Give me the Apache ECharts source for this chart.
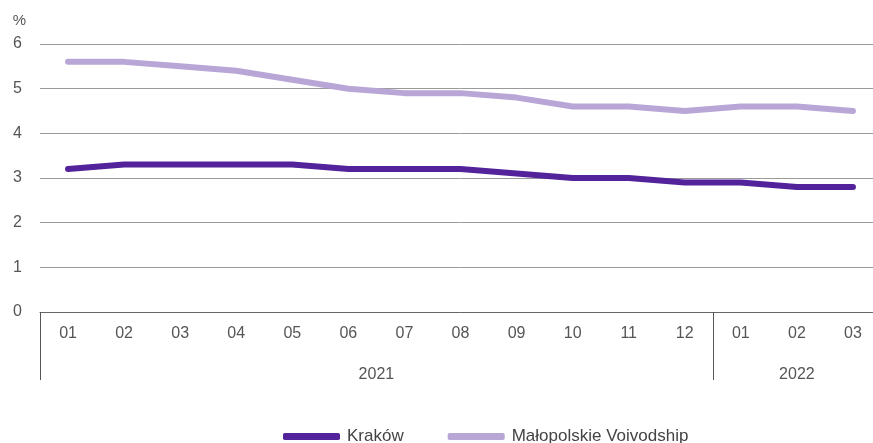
<!doctype html>
<html>
<head>
    <meta charset="utf-8">
    <title>Kraków / Małopolskie</title>
    <script src="https://cdn.jsdelivr.net/npm/echarts@6/dist/echarts.min.js"></script>
    <style>
        html, body{margin:0;padding:0;background:#fff;overflow:hidden;width:873px;height:443px;}
        /* wykres szerszy niż okno: prawa krawędź jest ucięta jak w oryginale */
        #chartBox{width:881px;height:443px;}
    </style>
</head>
<body>
    <div id="chartBox"></div>
<script type="text/javascript">
    // dane
    var months = ['01','02','03','04','05','06','07','08','09','10','11','12','01','02','03'];
    var krakow = [3.2, 3.3, 3.3, 3.3, 3.3, 3.2, 3.2, 3.2, 3.1, 3.0, 3.0, 2.9, 2.9, 2.8, 2.8];
    var malopolskie = [5.6, 5.6, 5.5, 5.4, 5.2, 5.0, 4.9, 4.9, 4.8, 4.6, 4.6, 4.5, 4.6, 4.6, 4.5];
    var years = ['2021', '2022'];
    var yearCenters = [6, 13.5];   // środek grupy miesięcy na osi wartości 0..15
    var yearBounds = [0, 12];      // granice lat
    var yTicks = [0, 1, 2, 3, 4, 5, 6];

    var font = '"Liberation Sans", sans-serif';

    var myChart = echarts.init(document.getElementById('chartBox'));
    var option = {
        animation: false,
        textStyle: {fontFamily: font},
        grid: {left: 40, right: 0, top: 44, bottom: 131, containLabel: false},
        legend: {
            top: 423,
            left: 278,
            itemWidth: 57,
            itemHeight: 7,
            itemGap: 44,
            icon: 'roundRect',
            textStyle: {fontFamily: font, fontSize: 17, color: '#444', padding: [0, 0, 0, 2]},
            data: ['Kraków', 'Małopolskie Voivodship']
        },
        xAxis: [{
            type: 'category',
            data: months,
            boundaryGap: true,
            axisLine: {lineStyle: {color: '#666', width: 1}},
            axisTick: {show: false},
            axisLabel: {color: '#555', fontSize: 16, margin: 14, interval: 0}
        }, {
            type: 'value',
            min: 0,
            max: 15,
            position: 'bottom',
            gridIndex: 0,
            axisLine: {show: false},
            splitLine: {show: false},
            axisTick: {
                show: true,
                customValues: yearBounds,
                length: 68,
                lineStyle: {color: '#555', width: 1}
            },
            axisLabel: {
                show: true,
                customValues: yearCenters,
                color: '#555',
                fontSize: 16,
                margin: 55,
                formatter: function (v) {
                    return years[yearCenters.indexOf(v)];
                }
            }
        }],
        yAxis: {
            type: 'value',
            min: yTicks[0],
            max: yTicks[yTicks.length - 1],
            interval: 1,
            name: '%',
            nameLocation: 'end',
            nameGap: 16,
            nameTextStyle: {color: '#555', fontSize: 15, align: 'right', padding: [0, 14, 0, 0]},
            axisLine: {show: false},
            axisTick: {show: false},
            axisLabel: {color: '#555', fontSize: 16, margin: 18},
            splitLine: {lineStyle: {color: '#9a9a9a', width: 1}}
        },
        series: [{
            name: 'Kraków',
            type: 'line',
            data: krakow,
            symbol: 'none',
            color: '#52239a',
            lineStyle: {width: 6, cap: 'round', join: 'round'}
        }, {
            name: 'Małopolskie Voivodship',
            type: 'line',
            data: malopolskie,
            symbol: 'none',
            color: '#b8a6d6',
            lineStyle: {width: 6, cap: 'round', join: 'round'}
        }]
    };
    myChart.setOption(option);
</script>
</body>
</html>
